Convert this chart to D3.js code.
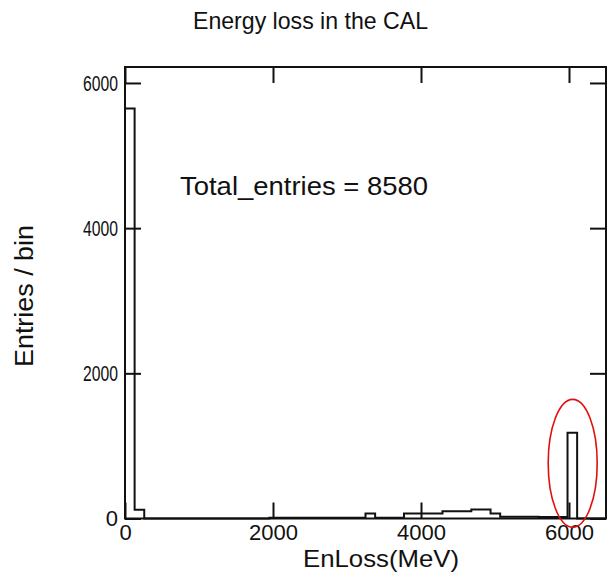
<!DOCTYPE html>
<html>
<head>
<meta charset="utf-8">
<script src="https://cdn.jsdelivr.net/npm/d3@7"></script>
<style>
  body { margin: 0; background: #fff; }
  text { font-family: "Liberation Sans", Arial, Helvetica, sans-serif; fill: #111; }
</style>
</head>
<body>
<div id="chart"></div>
<script>
// histogram of energy loss, 130 MeV bins from 0 to 6500
let binWidth = 130;
let binCounts = [5650, 120, 0, 0, 0, 0, 0, 0, 0, 0, 0, 0, 0, 0, 0,
    12, 12, 12, 12, 12, 12, 12, 12, 12, 12,
    70, 12, 12, 12,
    70, 70, 70, 70,
    100, 100, 100,
    125, 125,
    70,
    25, 25, 25, 25,
    20, 20, 20,
    1180,
    0, 0, 0];
let xTicks = [0, 2000, 4000, 6000];
let yTicks = [0, 2000, 4000, 6000];
let xDomain = [0, 6500];
let yDomain = [0, 6220];
let chartTitle = "Energy loss in the CAL";
let xTitle = "EnLoss(MeV)";
let yTitle = "Entries / bin";
let totalLabel = "Total_entries = 8580";
// highlighted peak (data coords)
let peakMark = { x: 6050, y: 760 };

let width = 613;
let height = 581;
let margin = { top: 67, right: 7, bottom: 62.5, left: 125 };

let svg = d3.select("#chart")
    .append("svg")
    .attr("width", width)
    .attr("height", height)
    .attr("viewBox", "0 0 " + width + " " + height);

let xScale = d3.scaleLinear()
    .domain(xDomain)
    .range([margin.left, width - margin.right]);

let yScale = d3.scaleLinear()
    .domain(yDomain)
    .range([height - margin.bottom, margin.top]);

let tickLen = 16;

// bottom axis
let gx = svg.append("g")
    .attr("transform", "translate(0," + yScale(0) + ")")
    .call(d3.axisBottom(xScale).tickValues(xTicks).tickFormat(d3.format("d"))
        .tickSizeInner(-tickLen).tickSizeOuter(0).tickPadding(6));
gx.selectAll("text")
    .style("font-size", "22px")
    .each(function (d) {
        if (d !== 0) d3.select(this).attr("textLength", 49).attr("lengthAdjust", "spacingAndGlyphs");
    });

// top axis, ticks only
svg.append("g")
    .attr("transform", "translate(0," + yScale(yDomain[1]) + ")")
    .call(d3.axisTop(xScale).tickValues(xTicks).tickFormat("")
        .tickSizeInner(-tickLen).tickSizeOuter(0));

// left axis
let gy = svg.append("g")
    .attr("transform", "translate(" + xScale(0) + ",0)")
    .call(d3.axisLeft(yScale).tickValues(yTicks).tickFormat(d3.format("d"))
        .tickSizeInner(-tickLen).tickSizeOuter(0).tickPadding(7));
gy.selectAll("text")
    .style("font-size", "22px")
    .each(function (d) {
        if (d !== 0) d3.select(this).attr("textLength", 35).attr("lengthAdjust", "spacingAndGlyphs");
    });

// right axis, ticks only
svg.append("g")
    .attr("transform", "translate(" + xScale(xDomain[1]) + ",0)")
    .call(d3.axisRight(yScale).tickValues(yTicks).tickFormat("")
        .tickSizeInner(-tickLen).tickSizeOuter(0));

svg.selectAll(".domain").remove();
svg.selectAll(".tick line").attr("stroke", "#111").attr("stroke-width", 2);

// frame
svg.append("rect")
    .attr("x", xScale(xDomain[0]))
    .attr("y", yScale(yDomain[1]))
    .attr("width", xScale(xDomain[1]) - xScale(xDomain[0]))
    .attr("height", yScale(0) - yScale(yDomain[1]))
    .attr("fill", "none")
    .attr("stroke", "#111")
    .attr("stroke-width", 2);

// histogram outline
let pts = [[0, 0]];
binCounts.forEach((c, i) => pts.push([i * binWidth, c]));
pts.push([binCounts.length * binWidth, 0]);

let line = d3.line()
    .x((d) => xScale(d[0]))
    .y((d) => yScale(d[1]))
    .curve(d3.curveStepAfter);

svg.append("path")
    .attr("d", line(pts))
    .attr("fill", "none")
    .attr("stroke", "#111")
    .attr("stroke-width", 2);

// red ellipse round the peak
svg.append("ellipse")
    .attr("cx", xScale(peakMark.x))
    .attr("cy", yScale(peakMark.y))
    .attr("rx", 24.5)
    .attr("ry", 64)
    .attr("fill", "none")
    .attr("stroke", "#e01010")
    .attr("stroke-width", 1.6);

// texts
svg.append("text")
    .attr("x", 310.5)
    .attr("y", 29)
    .attr("text-anchor", "middle")
    .attr("textLength", 235)
    .attr("lengthAdjust", "spacingAndGlyphs")
    .style("font-size", "24px")
    .text(chartTitle);

svg.append("text")
    .attr("x", 180)
    .attr("y", 195)
    .attr("textLength", 248)
    .attr("lengthAdjust", "spacingAndGlyphs")
    .style("font-size", "25px")
    .text(totalLabel);

svg.append("text")
    .attr("x", 381)
    .attr("y", 567)
    .attr("text-anchor", "middle")
    .attr("textLength", 156)
    .attr("lengthAdjust", "spacingAndGlyphs")
    .style("font-size", "24px")
    .text(xTitle);

svg.append("text")
    .attr("text-anchor", "middle")
    .attr("transform", "translate(33,296) rotate(-90)")
    .attr("textLength", 142)
    .attr("lengthAdjust", "spacingAndGlyphs")
    .style("font-size", "25px")
    .text(yTitle);
</script>
</body>
</html>
